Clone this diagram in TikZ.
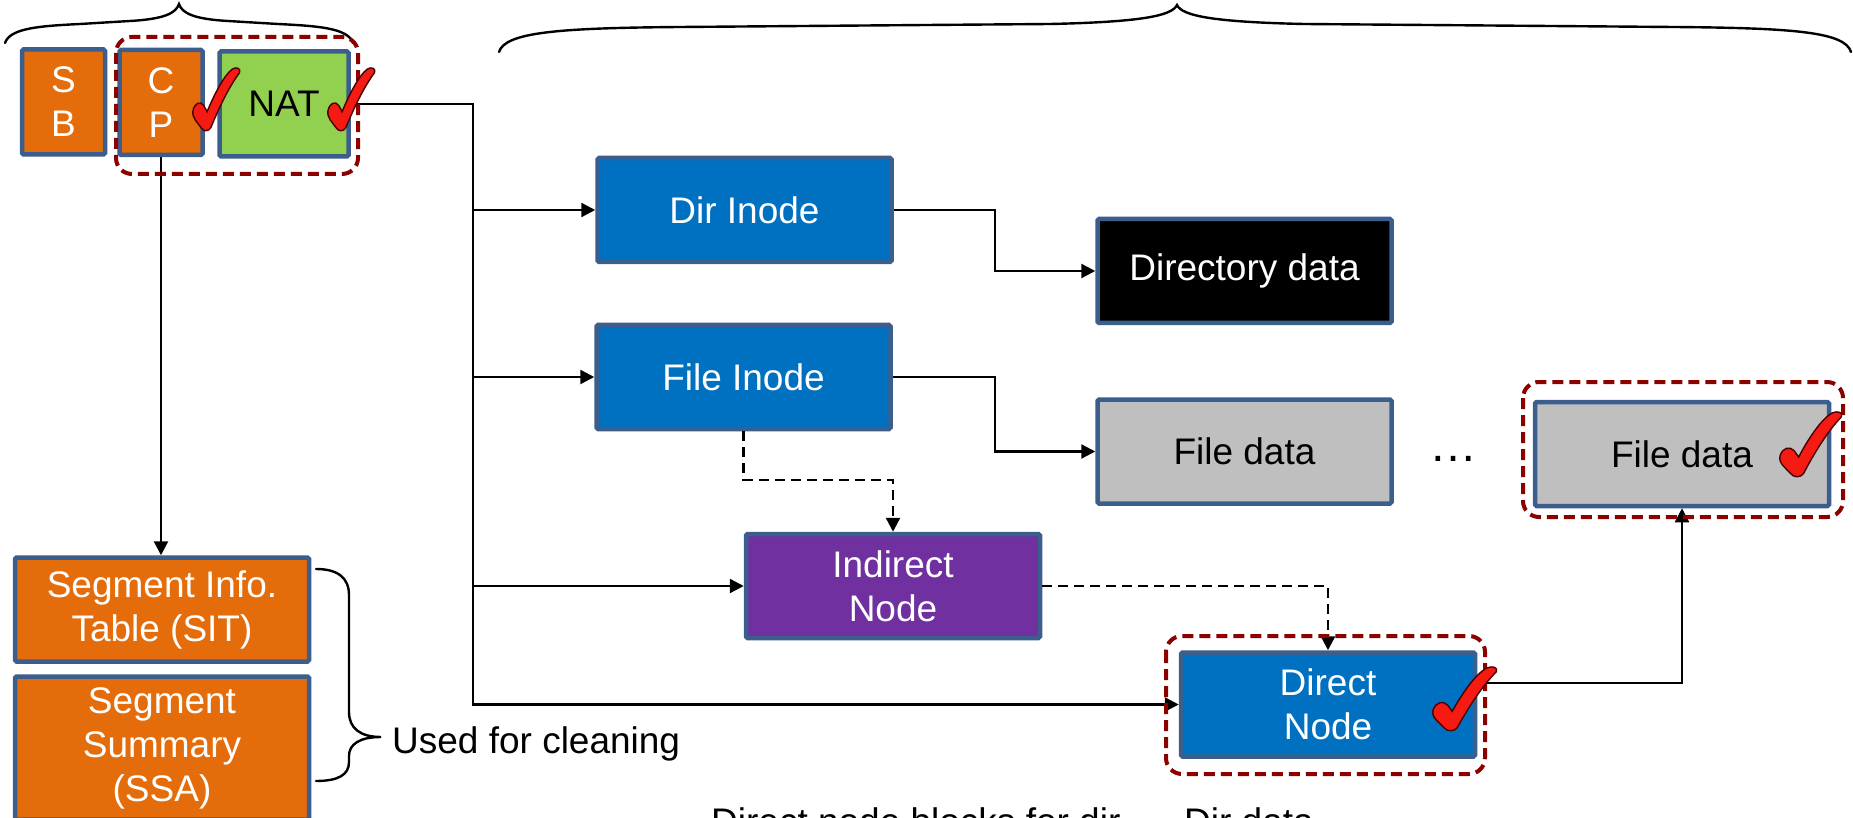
\documentclass[tikz,border=0pt]{standalone}
\usepackage{fontspec}
\setmainfont{Liberation Sans}
\usetikzlibrary{arrows.meta}

\definecolor{edgeblue}{HTML}{3B5E8C}
\definecolor{segorange}{HTML}{E46C0A}
\definecolor{natgreen}{HTML}{92D050}
\definecolor{nodeblue}{HTML}{0070C0}
\definecolor{nodepurple}{HTML}{7030A0}
\definecolor{datagray}{HTML}{BFBFBF}
\definecolor{grpred}{HTML}{8C0000}
\definecolor{tickred}{HTML}{F51A12}
\definecolor{tickedge}{HTML}{4A0000}

\tikzset{
  bigfont/.style={font=\fontsize{37}{44}\selectfont},
  blk/.style={draw=edgeblue, line width=4.5pt, rounded corners=1.5pt,
    inner sep=0pt, align=center, bigfont, text=white,
    minimum width=294pt, minimum height=104pt},
  tallbox/.style={minimum width=83pt, minimum height=105pt},
  wire/.style={line width=2.4pt, draw=black},
  link/.style={wire, -{Triangle[length=14pt,width=14pt]}},
  dlink/.style={link, dash pattern=on 10pt off 6pt},
  grp/.style={draw=grpred, line width=4pt, dash pattern=on 11pt off 6pt,
    rounded corners=16pt},
  brace/.style={line width=2.4pt, line cap=round},
  tick/.pic={
    \path[fill=tickred, draw=tickedge, line width=1.4pt]
      (0.0,0.68) .. controls (0.04,0.55) and (0.16,0.52) .. (0.23,0.60)
      -- (0.30,0.70)
      .. controls (0.45,0.42) and (0.66,0.10) .. (0.84,0.0)
      .. controls (0.93,-0.04) and (1.02,-0.01) .. (0.99,0.06)
      .. controls (0.76,0.30) and (0.55,0.64) .. (0.38,0.96)
      .. controls (0.33,1.03) and (0.22,1.03) .. (0.17,0.96)
      .. controls (0.10,0.88) and (-0.03,0.80) .. (0.0,0.68) -- cycle;
  }
}

\begin{document}
\begin{tikzpicture}[x=1pt,y=-1pt]
\clip (0,0) rectangle (1853,818);

% metadata blocks
\node[blk, tallbox, fill=segorange] (sb) at (63.5,102) {S\\B};
\node[blk, tallbox, fill=segorange] (cp) at (161,102.5) {C\\P};
\node[blk, fill=natgreen, text=black, minimum width=129pt, minimum height=105pt]
  (nat) at (284,104) {NAT};
\node[blk, fill=segorange] (sit) at (162,609.5) {Segment Info.\\Table (SIT)};
\node[blk, fill=segorange, minimum height=143pt] (ssa) at (162,748)
  {Segment\\Summary\\(SSA)};

% main area
\node[blk, fill=nodeblue] (dirinode) at (744.5,210) {Dir Inode};
\node[blk, fill=black] (dirdata) at (1244.5,271) {Directory data};
\node[blk, fill=nodeblue] (fileinode) at (743.5,377) {File Inode};
\node[blk, fill=datagray, text=black] (filedata) at (1244.5,451.5) {File data};
\node[blk, fill=datagray, text=black] (filedatab) at (1682,454) {File data};
\node[blk, fill=nodepurple] (indirect) at (893,586) {Indirect\\Node};
\node[blk, fill=nodeblue] (direct) at (1328,704.5) {Direct\\Node};

\node[font=\fontsize{48}{50}\selectfont, anchor=base, inner sep=0pt]
  (dots) at (1453,461) {…};

% braces
\draw[brace] (5,43) .. controls (10,28) and (40,26) .. (80,24) -- (130,21)
  .. controls (165,19) and (176,13) .. (179,4)
  .. controls (182,13) and (193,19) .. (228,21) -- (278,24)
  .. controls (318,26) and (348,28) .. (353,43);
\draw[brace] (499,52) .. controls (505,32) and (560,28) .. (680,27) -- (1050,24)
  .. controls (1140,22) and (1172,16) .. (1177,5)
  .. controls (1182,16) and (1214,22) .. (1304,24) -- (1674,27)
  .. controls (1794,28) and (1845,32) .. (1851,52);
\draw[brace] (316,569) .. controls (338,569) and (349,578) .. (349,595)
  -- (349,712) .. controls (349,728) and (360,737) .. (381,737)
  .. controls (360,737) and (349,744) .. (349,756)
  -- (349,762) .. controls (349,775) and (338,781) .. (316,781);
\node[bigfont, anchor=base west, inner sep=0pt] (clean) at (392,753)
  {Used for cleaning};

% connectors
\coordinate (bus) at (473,0);
\coordinate (elbow) at (995,0);
\draw[link] (cp.south) -- (cp.south |- sit.north);
\draw[link] (nat.east) -| (bus |- direct.west) -- (direct.west);
\draw[link] (bus |- dirinode.west) -- (dirinode.west);
\draw[link] (bus |- fileinode.west) -- (fileinode.west);
\draw[link] (bus |- indirect.west) -- (indirect.west);
\draw[link] (dirinode.east) -- (elbow |- dirinode.east) |- (dirdata.west);
\draw[link] (fileinode.east) -- (elbow |- fileinode.east) |- (filedata.west);
\draw[dlink] (fileinode.south) -- ++(0,49) -| (indirect.north);
\draw[dlink] (indirect.east) -| (direct.north);
\draw[link] ([yshift=21.5pt]direct.east) -| (filedatab.south);

% groups of checked blocks
\draw[grp] (116,37) rectangle (358,174);
\draw[grp] (1166,636) rectangle (1485,774);
\draw[grp] (1523,382) rectangle (1843,517);

% check marks
\pic[xscale=47, yscale=61] at (193,69) {tick};
\pic[xscale=47, yscale=61] at (328,69) {tick};
\pic[xscale=64, yscale=62] at (1433,668) {tick};
\pic[xscale=62, yscale=63] at (1780,413) {tick};

% caption
\node[bigfont, anchor=base west, inner sep=0pt] (capa) at (711,834)
  {Direct node blocks for dir};
\node[bigfont, anchor=base west, inner sep=0pt] (capb) at (1184,834)
  {Dir data};
\end{tikzpicture}
\end{document}
